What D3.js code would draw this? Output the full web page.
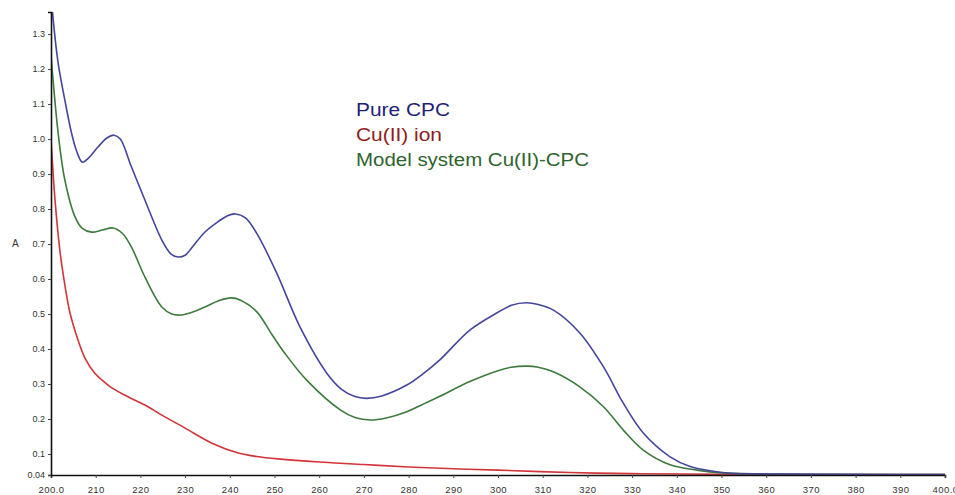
<!DOCTYPE html>
<html>
<head>
<meta charset="utf-8">
<script src="https://cdn.jsdelivr.net/npm/d3@7"></script>
<style>
    body { margin: 0; background: #fff; }
    #chart-vis { width: 955px; height: 495px; }
    text { font-family: "Liberation Sans", Arial, sans-serif; }
</style>
</head>
<body>
<div id="chart-vis"></div>
<script>
// wavelength (nm) / absorbance
let pureWl = [200, 200.5, 201.6, 203.1, 204.6, 205.8, 207, 208.5, 210.5, 212.5, 214.1, 215.5, 218, 221, 224.8, 226.8, 228.4, 230, 231.1, 234.5, 237.5, 239.5, 241.2, 243.5, 246, 250.5, 255.7, 261.7, 265, 268, 270.6, 274, 279.6, 283, 287, 293.7, 300, 303, 306.4, 309, 312.4, 318.3, 323.6, 328, 332.5, 338.5, 343, 347.4, 352, 360, 380, 400];
let pureAbs = [1.42, 1.34, 1.217, 1.111, 1.017, 0.963, 0.934, 0.947, 0.977, 1.003, 1.011, 1.0, 0.92, 0.826, 0.711, 0.672, 0.663, 0.668, 0.683, 0.735, 0.765, 0.781, 0.786, 0.775, 0.731, 0.617, 0.463, 0.331, 0.285, 0.264, 0.259, 0.266, 0.297, 0.327, 0.369, 0.454, 0.505, 0.525, 0.532, 0.527, 0.511, 0.446, 0.349, 0.246, 0.16, 0.092, 0.064, 0.052, 0.045, 0.043, 0.042, 0.041];

let ionWl = [200, 200.9, 202, 203.1, 204.25, 205.6, 207.6, 209.8, 211.9, 213.6, 217, 221, 224.8, 230, 236, 241.9, 246, 250.8, 260, 270, 280, 290, 300, 316, 330, 350, 400];
let ionAbs = [1.0, 0.826, 0.68, 0.583, 0.503, 0.443, 0.374, 0.331, 0.306, 0.289, 0.265, 0.24, 0.211, 0.174, 0.131, 0.103, 0.093, 0.086, 0.077, 0.07, 0.063, 0.058, 0.054, 0.047, 0.044, 0.042, 0.041];

let modelWl = [200, 201.6, 203.1, 205.4, 207, 209.1, 211.5, 213.9, 216, 218, 221, 224.8, 227, 228.9, 231.1, 234.4, 237.5, 240.4, 242.3, 246, 249.5, 252.3, 257.2, 264.7, 268, 271.4, 275, 279.6, 283, 287, 293.7, 300, 303, 306.4, 309, 312.4, 318.3, 323.6, 328, 332.5, 338.5, 344.5, 350, 360, 400];
let modelAbs = [1.24, 1.017, 0.883, 0.777, 0.745, 0.734, 0.74, 0.746, 0.73, 0.691, 0.606, 0.52, 0.5, 0.497, 0.503, 0.52, 0.538, 0.546, 0.54, 0.507, 0.44, 0.388, 0.311, 0.226, 0.204, 0.197, 0.203, 0.221, 0.241, 0.265, 0.307, 0.338, 0.348, 0.351, 0.348, 0.335, 0.292, 0.235, 0.169, 0.111, 0.069, 0.054, 0.046, 0.043, 0.041];

let seriesNames = ["Pure CPC", "Cu(II) ion", "Model system Cu(II)-CPC"];
let lineColors = ["#45459e", "#d3343a", "#3d7a3d"];
let legendColors = ["#1f1f78", "#8e1c1c", "#2f632f"];

let xTicks = [200, 210, 220, 230, 240, 250, 260, 270, 280, 290, 300, 310, 320, 330, 340, 350, 360, 370, 380, 390, 400];
let xTickLabels = ["200.0", "210", "220", "230", "240", "250", "260", "270", "280", "290", "300", "310", "320", "330", "340", "350", "360", "370", "380", "390", "400.0"];
let yTicks = [0.04, 0.1, 0.2, 0.3, 0.4, 0.5, 0.6, 0.7, 0.8, 0.9, 1.0, 1.1, 1.2, 1.3];
let yTickLabels = ["0.04", "0.1", "0.2", "0.3", "0.4", "0.5", "0.6", "0.7", "0.8", "0.9", "1.0", "1.1", "1.2", "1.3"];

class SpectrumVis {
    constructor(parentElement) {
        this.parentElement = parentElement;
        this.series = [
            {name: seriesNames[0], wl: pureWl, abs: pureAbs},
            {name: seriesNames[1], wl: ionWl, abs: ionAbs},
            {name: seriesNames[2], wl: modelWl, abs: modelAbs}
        ];
        this.initVis();
    }

    initVis() {
        let vis = this;

        vis.margin = {top: 12, right: 10, bottom: 20, left: 51};
        vis.width = 945 - vis.margin.left;
        vis.height = 475 - vis.margin.top;

        vis.svg = d3.select("#" + vis.parentElement).append("svg")
            .attr("width", 955)
            .attr("height", 495)
            .append("g")
            .attr("transform", `translate(${vis.margin.left},${vis.margin.top})`);

        vis.x = d3.scaleLinear().domain([200, 400]).range([0, vis.width]);
        vis.y = d3.scaleLinear().domain([0.04, 1.363]).range([vis.height, 0]);

        // keep the curves inside the plot area
        vis.svg.append("clipPath").attr("id", "plot-clip")
            .append("rect")
            .attr("x", 0).attr("y", 0)
            .attr("width", vis.width).attr("height", vis.height);

        vis.line = d3.line()
            .x(d => vis.x(d[0]))
            .y(d => vis.y(d[1]))
            .curve(d3.curveCatmullRom.alpha(0.5));

        // draw ion first so it sits under the others
        let order = [1, 2, 0];
        vis.svg.append("g")
            .attr("clip-path", "url(#plot-clip)")
            .selectAll("path")
            .data(order)
            .enter().append("path")
            .attr("d", i => vis.line(vis.series[i].wl.map((w, j) => [w, vis.series[i].abs[j]])))
            .attr("fill", "none")
            .attr("stroke", i => lineColors[i])
            .attr("stroke-width", 1.6)
            .attr("stroke-linejoin", "round");

        // axes
        let xAxis = d3.axisBottom(vis.x)
            .tickValues(xTicks)
            .tickSize(3)
            .tickFormat((d, i) => xTickLabels[i]);

        let yAxis = d3.axisLeft(vis.y)
            .tickValues(yTicks)
            .tickSize(3)
            .tickFormat((d, i) => yTickLabels[i]);

        let gx = vis.svg.append("g")
            .attr("transform", `translate(0,${vis.height})`)
            .call(xAxis);
        gx.select(".domain").attr("stroke", "#111").attr("stroke-width", 1.6);
        gx.selectAll(".tick line").attr("stroke", "#444");
        gx.selectAll(".tick text")
            .attr("y", 11)
            .attr("font-size", "9.5px")
            .attr("fill", "#333")
            .attr("letter-spacing", "0.4px")
            .attr("font-family", "Liberation Sans, Arial, sans-serif");

        let gy = vis.svg.append("g").call(yAxis);
        gy.select(".domain").attr("stroke", "#111").attr("stroke-width", 1.6);
        gy.selectAll(".tick line").attr("stroke", "#444");
        gy.selectAll(".tick text")
            .attr("x", -6)
            .attr("font-size", "9px")
            .attr("fill", "#333")
            .attr("font-family", "Liberation Sans, Arial, sans-serif");

        // y axis title
        vis.svg.append("text")
            .attr("x", -39)
            .attr("y", vis.y(0.7) + 3)
            .attr("font-size", "10px")
            .attr("fill", "#333")
            .text("A");

        // legend
        let legendWidths = [94, 86, 233];
        vis.svg.selectAll(".legend")
            .data(seriesNames)
            .enter().append("text")
            .attr("class", "legend")
            .attr("x", 356 - vis.margin.left)
            .attr("y", (d, i) => 116 - vis.margin.top + i * 25)
            .attr("font-size", "18px")
            .attr("fill", (d, i) => legendColors[i])
            .attr("textLength", (d, i) => legendWidths[i])
            .attr("lengthAdjust", "spacingAndGlyphs")
            .text(d => d);
    }
}

let spectrumVis = new SpectrumVis("chart-vis");
</script>
</body>
</html>
